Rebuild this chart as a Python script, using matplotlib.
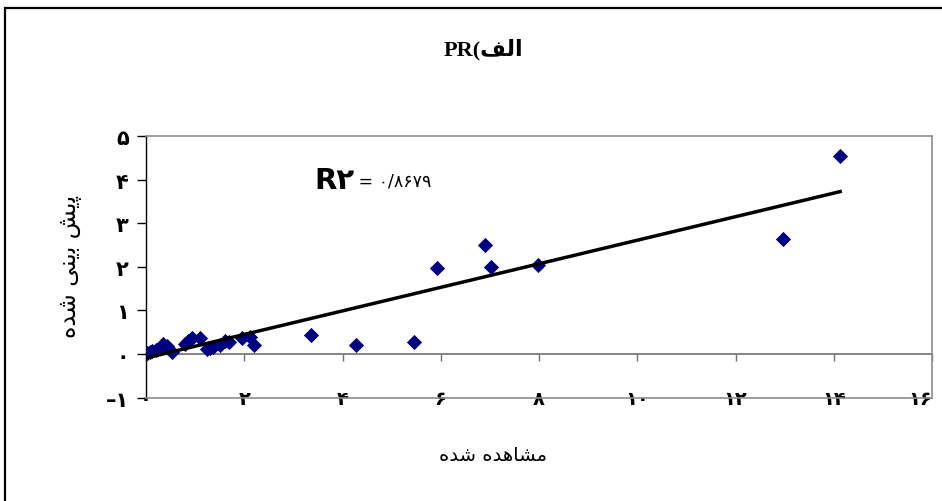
import matplotlib
matplotlib.use("Agg")
import matplotlib.pyplot as plt
from matplotlib.patches import Rectangle
import numpy as np

observed = [0.0, 0.02, 0.08, 0.12, 0.2, 0.28, 0.35, 0.42, 0.52, 0.8, 0.86, 0.93,
            1.1, 1.24, 1.3, 1.37, 1.5, 1.61, 1.68, 1.95, 2.12, 2.19,
            3.36, 4.28, 5.46, 5.93, 6.9, 7.03, 7.98, 12.97, 14.13]
predicted = [0.0, 0.03, 0.05, 0.08, 0.1, 0.15, 0.23, 0.19, 0.04, 0.23, 0.3, 0.38,
             0.36, 0.11, 0.15, 0.17, 0.2, 0.3, 0.27, 0.36, 0.39, 0.2,
             0.44, 0.21, 0.28, 1.97, 2.5, 2.0, 2.04, 2.64, 4.54]

# linear trend line
trend_slope = 0.27
trend_intercept = -0.09

x_ticks = [0, 2, 4, 6, 8, 10, 12, 14, 16]
x_labels = ["۰", "۲", "۴", "۶", "۸", "۱۰", "۱۲", "۱۴", "۱۶"]
y_ticks = [-1, 0, 1, 2, 3, 4, 5]
y_labels = ["–۱", "۰", "۱", "۲", "۳", "۴", "۵"]

# arabic text in visual order with presentation forms
titulo = "PR(\uFED2\uFEDF\uFE8D"
etiqueta_y = "\uFEE9\uFEAA\uFEB7 \uFBFD\uFEE8\uFBFE\uFE91 \uFEB6\uFBFE\uFB58"
etiqueta_x = "\uFEE9\uFEAA\uFEB7 \uFEE9\uFEAA\uFEEB\uFE8E\uFEB8\uFEE3"
r2_texto = "R۲"
r2_valor = " = ۰/۸۶۷۹"

plt.rcParams['font.family'] = ['DejaVu Sans']

fig = plt.figure(figsize=(9.42, 5.02), dpi=100)
ax = fig.add_axes([146/942, 1 - 398.7/502, (932 - 146)/942, (398.7 - 137)/502])

ax.scatter(observed, predicted, marker='D', s=60, color='#000080', zorder=3, linewidths=0)

xs = np.array([min(observed), max(observed)])
ax.plot(xs, trend_slope*xs + trend_intercept, color='black', lw=2.5, zorder=4)

ax.set_xlim(0, 16)
ax.set_ylim(-1, 5)

for lado in ['top', 'right', 'bottom']:
    ax.spines[lado].set_color('#8c8c8c')
    ax.spines[lado].set_linewidth(1.2)
ax.spines['left'].set_color('black')
ax.spines['left'].set_linewidth(1.0)

ax.set_yticks(y_ticks)
ax.set_yticklabels(y_labels, fontsize=15, fontweight='bold')
ax.tick_params(axis='y', length=6.5, width=1, color='black', pad=6)

ax.set_xticks(x_ticks)
ax.set_xticklabels(x_labels, fontsize=14, fontweight='bold')
ax.tick_params(axis='x', length=0, pad=-6)
for lab in ax.get_xticklabels():
    lab.set_bbox(dict(facecolor='white', edgecolor='none', pad=1))
# keep the last label inside the picture
ax.get_xticklabels()[-1].set_horizontalalignment('right')

# zero line with tick marks
eje0 = ax.secondary_xaxis(1/6)
eje0.set_xticks(x_ticks)
eje0.set_xticklabels([])
eje0.spines['bottom'].set_color('#707070')
eje0.spines['bottom'].set_linewidth(1.2)
eje0.tick_params(axis='x', length=5, width=1, color='#707070', direction='out')

ax.set_xlabel(etiqueta_x, fontsize=14)
ax.xaxis.set_label_coords((493 - 146)/786, -0.18)
ax.set_ylabel(etiqueta_y, fontsize=17)
ax.yaxis.set_label_coords((82 - 146)/786, 0.507)

ax.text(3.42, 4.0, r2_texto, fontsize=21, fontweight='bold', va='center', ha='left')
ax.text(4.22, 3.97, r2_valor, fontsize=12.5, va='center', ha='left')

fig.text(483/942, 1 - 50/502, titulo, fontsize=16, fontweight='bold',
         family=['Liberation Serif', 'DejaVu Sans'], ha='center', va='center')

fig.patches.append(Rectangle((5/942, -0.1), 2, 1.1 - 9/502, transform=fig.transFigure,
                             fill=False, edgecolor='black', lw=1.6, zorder=10))

fig.savefig("out.png", dpi=100)
